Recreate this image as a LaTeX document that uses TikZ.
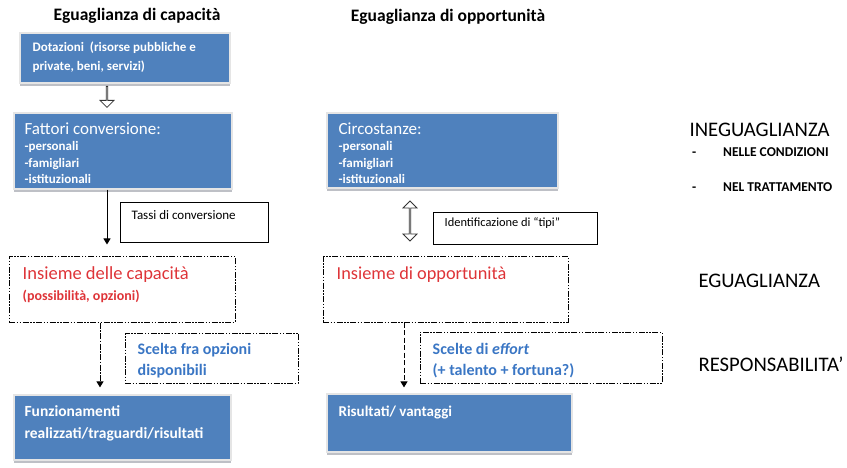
\documentclass[tikz,border=0pt]{standalone}
\usepackage{fontspec}
\setmainfont{Carlito}
\usetikzlibrary{arrows.meta,shapes.arrows,shadows}
\definecolor{BoxClr}{RGB}{79,129,189}
\definecolor{RedClr}{RGB}{222,52,56}
\definecolor{BlueTxtClr}{RGB}{58,118,196}
\definecolor{ShadowClr}{RGB}{190,192,198}

\begin{document}
\begin{tikzpicture}[x=1pt,y=-1pt,
  bluebox/.style={rectangle,fill=BoxClr,draw=white!90!black,line width=1.2pt,
    drop shadow={shadow xshift=0pt,shadow yshift=-3pt,fill=ShadowClr,opacity=1}},
  linebox/.style={rectangle,draw=black,line width=1pt},
  dashbox/.style={rectangle,draw=black,line width=1pt,
    dash pattern=on 6pt off 1.5pt on 1.5pt off 1.5pt on 1.5pt off 1.5pt},
  txt/.style={anchor=north west,inner sep=0pt,align=left},
  conn/.style={line width=1pt,-{Triangle[length=6pt,width=7pt]}},
  hollow/.style={draw=black!80,fill=white,line width=0.8pt,inner sep=0pt}]

\useasboundingbox (0,0) rectangle (847,468);

\node[font=\bfseries\fontsize{17.5}{19}\selectfont] (t1) at (137,16) {Eguaglianza di capacità};
\node[font=\bfseries\fontsize{17.5}{19}\selectfont] (t2) at (448,17) {Eguaglianza di opportunità};

% colonna capacita'
\node[bluebox,minimum width=210pt,minimum height=50pt] (dot) at (125,58) {};
\node[txt,text=white,font=\bfseries\fontsize{13}{19}\selectfont] (dottxt)
  at ([xshift=13pt,yshift=-9pt]dot.north west) {Dotazioni\ \ (risorse pubbliche e\\private, beni, servizi)};

\node[bluebox,minimum width=218pt,minimum height=76pt] (fat) at (123,151) {};
\node[txt,text=white,font=\bfseries\fontsize{13}{16.5}\selectfont] (fattxt)
  at ([xshift=11pt,yshift=-10pt]fat.north west)
  {{\mdseries\fontsize{17}{18}\selectfont Fattori conversione:}\\-personali\\-famigliari\\-istituzionali};

\node[linebox,minimum width=148pt,minimum height=40pt] (tassi) at (194,223) {};
\node[txt,font=\fontsize{13}{14}\selectfont] (tassitxt)
  at ([xshift=12pt,yshift=-8pt]tassi.north west) {Tassi di conversione};

\node[dashbox,minimum width=226pt,minimum height=65pt] (cap) at (122,289.5) {};
\node[txt,text=RedClr,font=\bfseries\fontsize{14}{16}\selectfont] (captxt)
  at ([xshift=14pt,yshift=-10pt]cap.north west)
  {{\mdseries\fontsize{18.5}{20}\selectfont Insieme delle capacità}\\[5pt](possibilità, opzioni)};

\node[dashbox,minimum width=173pt,minimum height=50pt] (scelta) at (211.5,358) {};
\node[txt,text=BlueTxtClr,font=\bfseries\fontsize{16}{20.5}\selectfont] (sceltatxt)
  at ([xshift=13pt,yshift=-11pt]scelta.north west) {Scelta fra opzioni\\disponibili};

\node[bluebox,minimum width=217pt,minimum height=65pt] (fun) at (122.5,427.5) {};
\node[txt,text=white,font=\bfseries\fontsize{15.5}{21.5}\selectfont] (funtxt)
  at ([xshift=11pt,yshift=-11pt]fun.north west) {Funzionamenti\\realizzati/traguardi/risultati};

% colonna opportunita'
\node[bluebox,minimum width=231pt,minimum height=75pt] (circ) at (442.5,150.5) {};
\node[txt,text=white,font=\bfseries\fontsize{13}{16.5}\selectfont] (circtxt)
  at ([xshift=12pt,yshift=-10pt]circ.north west)
  {{\mdseries\fontsize{17}{18}\selectfont Circostanze:}\\-personali\\-famigliari\\-istituzionali};

\node[linebox,minimum width=164pt,minimum height=32pt] (ident) at (515,229) {};
\node[txt,font=\fontsize{12.4}{14}\selectfont] (identtxt)
  at ([xshift=12pt,yshift=-5pt]ident.north west) {Identificazione di “tipi”};

\node[dashbox,minimum width=245pt,minimum height=65pt] (opp) at (445.5,289.5) {};
\node[txt,text=RedClr,font=\fontsize{18.3}{20}\selectfont] (opptxt)
  at ([xshift=14pt,yshift=-10pt]opp.north west) {Insieme di opportunità};

\node[dashbox,minimum width=242pt,minimum height=51pt] (effort) at (541,357.5) {};
\node[txt,text=BlueTxtClr,font=\bfseries\fontsize{16}{20.5}\selectfont] (efforttxt)
  at ([xshift=13pt,yshift=-12pt]effort.north west) {Scelte di \textit{effort}\\(+ talento + fortuna?)};

\node[bluebox,minimum width=245pt,minimum height=58pt] (ris) at (449.5,423) {};
\node[txt,text=white,font=\bfseries\fontsize{15}{17}\selectfont] (ristxt)
  at ([xshift=12pt,yshift=-12pt]ris.north west) {Risultati/ vantaggi};

% frecce
\node[hollow,single arrow,rotate=-90,minimum height=21pt,minimum width=14pt,
  single arrow head extend=3.5pt] (a1) at (107,96.5) {};
\node[hollow,double arrow,rotate=90,minimum height=40pt,minimum width=14pt,
  double arrow head extend=3.5pt] (a2) at (410,221) {};

\draw[conn,shorten >=12pt] ([xshift=-16pt]fat.south) -- ([xshift=-16pt]fat.south |- cap.north);
\draw[conn,shorten >=7pt,dash pattern=on 6pt off 1.5pt on 1.5pt off 1.5pt]
  ([xshift=-22pt]cap.south) -- ([xshift=-22pt]cap.south |- fun.north);
\draw[conn,shorten >=6pt,dash pattern=on 5pt off 2.5pt]
  ([xshift=-41.5pt]opp.south) -- ([xshift=-41.5pt]opp.south |- ris.north);

% colonna destra
\node[anchor=west,font=\fontsize{20.7}{22}\selectfont] (ineg) at (686,130) {INEGUAGLIANZA};
\node[anchor=base west,inner sep=0pt,font=\bfseries\fontsize{13.5}{15}\selectfont] (d1) at (692,157) {-};
\node[anchor=base west,inner sep=0pt,font=\bfseries\fontsize{13.5}{15}\selectfont] (cond) at (723,157) {NELLE CONDIZIONI};
\node[anchor=base west,inner sep=0pt,font=\bfseries\fontsize{13.5}{15}\selectfont] (d2) at (692,192) {-};
\node[anchor=base west,inner sep=0pt,font=\bfseries\fontsize{13.5}{15}\selectfont] (tratt) at (723,192) {NEL TRATTAMENTO};
\node[anchor=west,font=\fontsize{20.7}{22}\selectfont] (egua) at (695,281) {EGUAGLIANZA};
\node[anchor=west,font=\fontsize{20.7}{22}\selectfont] (resp) at (695,364) {RESPONSABILITA’};

\end{tikzpicture}
\end{document}
